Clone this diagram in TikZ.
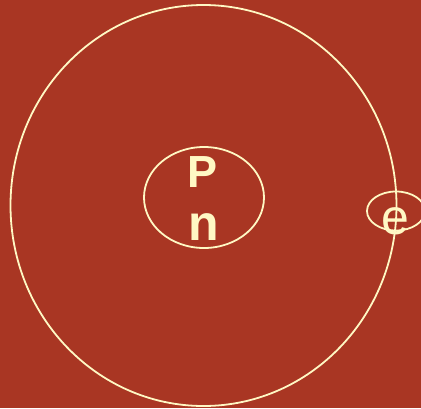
\documentclass[tikz,border=0pt]{standalone}
\usepackage{fontspec}
\setmainfont{Liberation Sans}
\definecolor{atomred}{RGB}{169,54,35}
\definecolor{orbitcream}{RGB}{255,248,196}
\begin{document}
\begin{tikzpicture}[x=1pt,y=-1pt,
  orbit/.style={draw=orbitcream,line width=1.8pt},
  particle/.style={text=orbitcream,inner sep=0pt,anchor=base}]
\useasboundingbox (0,0) rectangle (421,408);
\clip (0,0) rectangle (421,408);
\fill[atomred] (0,0) rectangle (421,408);
\draw[orbit] (203.5,205.5) ellipse [x radius=193pt, y radius=200.5pt];
\draw[orbit] (204,197.5) ellipse [x radius=60pt, y radius=50.5pt];
\draw[orbit] (396,211) ellipse [x radius=29pt, y radius=19.5pt];
\node[particle] (proton) at (203,187) {\fontsize{45}{45}\selectfont\bfseries P};
\node[particle] (neutron) at (204,240) {\fontsize{50}{50}\selectfont\bfseries n};
\node[particle] (electron) at (395,234.5) {\fontsize{50}{50}\selectfont e};
\end{tikzpicture}
\end{document}
